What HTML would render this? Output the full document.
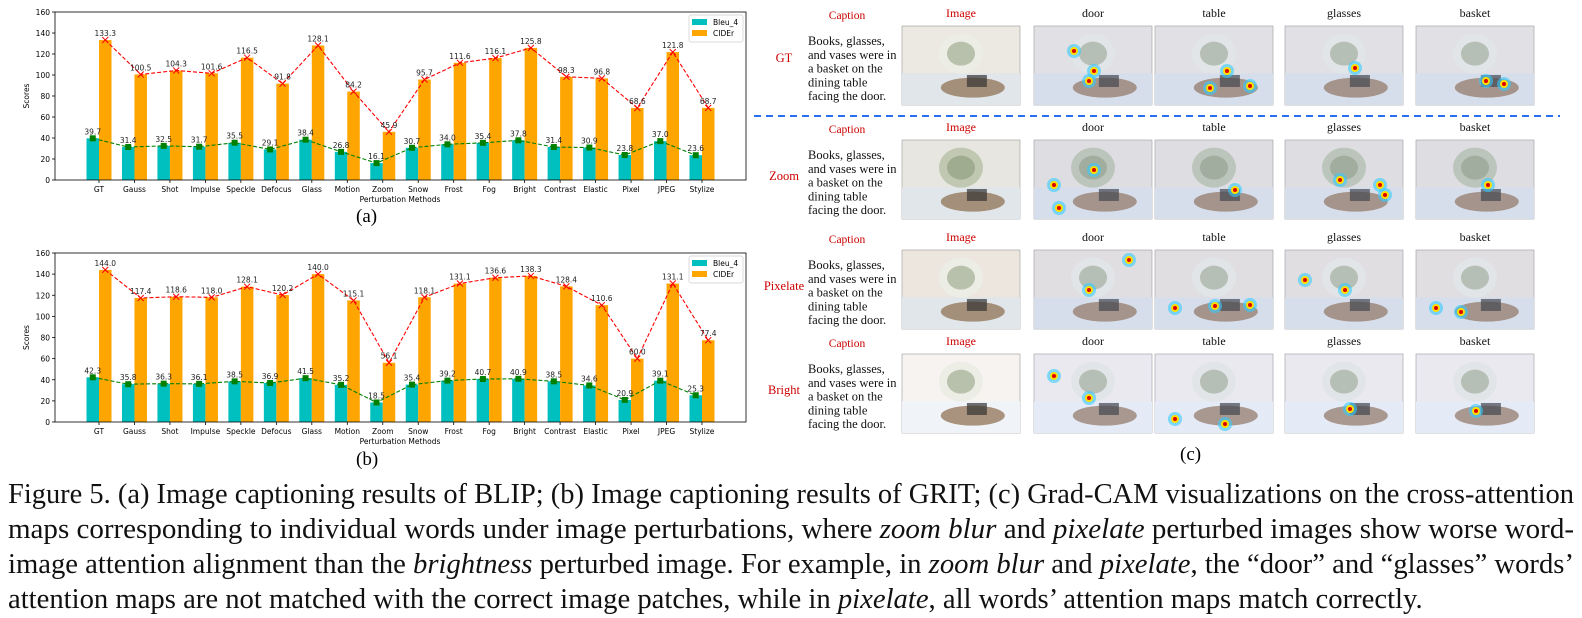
<!DOCTYPE html>
<html><head><meta charset="utf-8"><style>
body{margin:0;width:1582px;height:618px;background:#fff;overflow:hidden;position:relative;font-family:"Liberation Serif",serif}
.abs{position:absolute}
.cap{position:absolute;left:8px;width:1566px;top:477px;font-size:28px;line-height:35px;color:#111}
.cap span.ln{display:block;white-space:nowrap;transform-origin:0 0;width:max-content}
</style></head><body>
<svg id="charts" class="abs" style="left:0;top:0" width="760" height="470"></svg>
<div class="abs" style="left:356px;top:206px;font-size:19px">(a)</div>
<div class="abs" style="left:356px;top:449px;font-size:19px">(b)</div>
<svg id="grid" class="abs" style="left:750px;top:0" width="832" height="470"></svg>
<div class="abs" style="left:1180px;top:444px;font-size:19px">(c)</div>
<div class="cap" id="cap">
<span class="ln">Figure 5. (a) Image captioning results of BLIP; (b) Image captioning results of GRIT; (c) Grad-CAM visualizations on the cross-attention</span>
<span class="ln">maps corresponding to individual words under image perturbations, where <i>zoom blur</i> and <i>pixelate</i> perturbed images show worse word-</span>
<span class="ln">image attention alignment than the <i>brightness</i> perturbed image. For example, in <i>zoom blur</i> and <i>pixelate</i>, the “door” and “glasses” words’</span>
<span class="ln">attention maps are not matched with the correct image patches, while in <i>pixelate</i>, all words’ attention maps match correctly.</span>
</div>
<script>
(function(){const ls=document.querySelectorAll('#cap .ln');let last=1;
ls.forEach((l,i)=>{const w=l.getBoundingClientRect().width;let s=(i<ls.length-1)?1566/w:last;if(i<ls.length-1)last=s;l.style.transform='scaleX('+s+')';});})();
const categories=["GT","Gauss","Shot","Impulse","Speckle","Defocus","Glass","Motion","Zoom","Snow","Frost","Fog","Bright","Contrast","Elastic","Pixel","JPEG","Stylize"];
const bleuA=[39.7,31.4,32.5,31.7,35.5,29.1,38.4,26.8,16.1,30.7,34.0,35.4,37.8,31.4,30.9,23.8,37.0,23.6];
const ciderA=[133.3,100.5,104.3,101.6,116.5,91.8,128.1,84.2,45.9,95.7,111.6,116.1,125.8,98.3,96.8,68.6,121.8,68.7];
const bleuB=[42.3,35.8,36.3,36.1,38.5,36.9,41.5,35.2,18.5,35.4,39.2,40.7,40.9,38.5,34.6,20.9,39.1,25.3];
const ciderB=[144.0,117.4,118.6,118.0,128.1,120.2,140.0,115.1,56.1,118.1,131.1,136.6,138.3,128.4,110.6,60.0,131.1,77.4];
const yTicks=[0,20,40,60,80,100,120,140,160];
const NS="http://www.w3.org/2000/svg";
function mk(p,t,a,txt){const e=document.createElementNS(NS,t);for(const k in a)e.setAttribute(k,a[k]);if(txt!==undefined)e.textContent=txt;p.appendChild(e);return e;}
const svg=document.getElementById('charts');
function chart(top,bottom,bleu,cider,tag){
  const L=55,R=746;
  const y=v=>bottom-(v/160)*(bottom-top);
  const x=i=>99+i*35.47;
  const g=mk(svg,'g',{});
  
  
  yTicks.forEach(t=>{mk(g,'line',{x1:L-3,x2:L,y1:y(t),y2:y(t),stroke:'#000','stroke-width':0.8});
    const tx=mk(g,'text',{x:L-5,y:y(t)+3,'font-size':7.5,'text-anchor':'end','font-family':'DejaVu Sans, sans-serif'},t);
    });
  const yt=mk(g,'text',{x:0,y:0,'font-size':7.5,'text-anchor':'middle','font-family':'DejaVu Sans, sans-serif',transform:`translate(29,${(top+bottom)/2}) rotate(-90)`},'Scores');
  
  const bw=12.5;
  categories.forEach((c,i)=>{
    const b1=mk(g,'rect',{x:x(i)-bw,y:y(bleu[i]),width:bw,height:bottom-y(bleu[i]),fill:'#00bfbf'});
    
    const b2=mk(g,'rect',{x:x(i),y:y(cider[i]),width:bw,height:bottom-y(cider[i]),fill:'#ffa500'});
    
    mk(g,'line',{x1:x(i),x2:x(i),y1:bottom,y2:bottom+3,stroke:'#000','stroke-width':0.8});
    const tl=mk(g,'text',{x:x(i),y:bottom+12,'font-size':7.5,'text-anchor':'middle','font-family':'DejaVu Sans, sans-serif'},c);
    
  });
  let pb='',pc='';
  categories.forEach((c,i)=>{pb+=(i?'L':'M')+(x(i)-bw/2)+','+y(bleu[i]);pc+=(i?'L':'M')+(x(i)+bw/2)+','+y(cider[i]);});
  mk(g,'path',{d:pb,fill:'none',stroke:'green','stroke-width':1.1,'stroke-dasharray':'4,2'});
  mk(g,'path',{d:pc,fill:'none',stroke:'red','stroke-width':1.1,'stroke-dasharray':'4,2'});
  categories.forEach((c,i)=>{
    const cx=x(i)-bw/2,cy=y(bleu[i]);
    mk(g,'rect',{x:cx-3,y:cy-3,width:6,height:6,fill:'green'});
    mk(g,'text',{x:cx,y:cy-4,'font-size':7.5,'text-anchor':'middle','font-family':'DejaVu Sans, sans-serif',fill:'#222'},bleu[i].toFixed(1));
    const dx=x(i)+bw/2,dy=y(cider[i]);
    mk(g,'path',{d:`M${dx-3},${dy-3}L${dx+3},${dy+3}M${dx-3},${dy+3}L${dx+3},${dy-3}`,stroke:'red','stroke-width':1});
    mk(g,'text',{x:dx,y:dy-4,'font-size':7.5,'text-anchor':'middle','font-family':'DejaVu Sans, sans-serif',fill:'#222'},cider[i].toFixed(1));
  });
  mk(g,'rect',{x:L,y:top,width:R-L,height:bottom-top,fill:'none',stroke:'#000','stroke-width':0.8});
  const xt=mk(g,'text',{x:400,y:bottom+22,'font-size':7.5,'text-anchor':'middle','font-family':'DejaVu Sans, sans-serif'},'Perturbation Methods');
  
  const lg=mk(g,'g',{});
  
  mk(lg,'rect',{x:689,y:top+3,width:54,height:27,fill:'#fff',stroke:'#ccc','stroke-width':0.7,rx:2});
  mk(lg,'rect',{x:692,y:top+7,width:15,height:6,fill:'#00bfbf'});
  mk(lg,'text',{x:713,y:top+13,'font-size':7.5,'font-family':'DejaVu Sans, sans-serif'},'Bleu_4');
  mk(lg,'rect',{x:692,y:top+18,width:15,height:6,fill:'#ffa500'});
  mk(lg,'text',{x:713,y:top+24,'font-size':7.5,'font-family':'DejaVu Sans, sans-serif'},'CIDEr');
}
chart(12,180,bleuA,ciderA,'a');
chart(253,422,bleuB,ciderB,'b');

const gs=document.getElementById('grid');
const rows=[{lab:'GT',y:26,ly:62,bg:'#ece8e2'},{lab:'Zoom',y:140,ly:180,bg:'#e8e6e0'},{lab:'Pixelate',y:250,ly:290,bg:'#ece6de'},{lab:'Bright',y:354,ly:394,bg:'#f6f3f0'}];
const cols=['Image','door','table','glasses','basket'];
const colX=[152,284,405,535,666];
const heat=[[[],[[40,25],[55,55],[60,45]],[[55,62],[72,45],[95,60]],[[70,42]],[[88,58],[70,55]]],
[[],[[20,45],[60,30],[25,68]],[[80,50]],[[55,40],[95,45],[100,55]],[[72,45]]],
[[],[[95,10],[55,40]],[[20,58],[60,56],[95,55]],[[20,30],[60,40]],[[20,58],[45,62]]],
[[],[[20,22],[55,44]],[[20,65],[70,70]],[[65,55]],[[60,57]]]];
rows.forEach((r,ri)=>{
  const rg=mk(gs,'g',{});
  
  mk(rg,'text',{x:34,y:r.ly,'font-size':12.5,fill:'#c00','text-anchor':'middle','font-family':'Liberation Serif, serif'},r.lab);
  mk(rg,'text',{x:97,y:r.y-7,'font-size':11.5,fill:'#c00','text-anchor':'middle','font-family':'Liberation Serif, serif'},'Caption');
  ['Books, glasses,','and vases were in','a basket on the','dining table','facing the door.'].forEach((t,k)=>
    mk(rg,'text',{x:58,y:r.y+19+k*13.8,'font-size':12.5,fill:'#111','font-family':'Liberation Serif, serif'},t));
  cols.forEach((c,ci)=>{
    const x0=colX[ci],w=118,h=79;
    mk(rg,'text',{x:x0+w/2,y:r.y-9,'font-size':12,fill:ci==0?'#c00':'#111','text-anchor':'middle','font-family':'Liberation Serif, serif'},c);
    const im=mk(rg,'g',{});
    
    mk(im,'rect',{x:x0,y:r.y,width:w,height:h,fill:r.bg,stroke:'#999','stroke-width':0.6});
    mk(im,'rect',{x:x0,y:r.y+h*0.6,width:w,height:h*0.4,fill:ri==3?'#f0f4f8':'#e0e6ea'});
    mk(im,'ellipse',{cx:x0+w*0.5,cy:r.y+h*0.35,rx:22,ry:20,fill:ri==1?'#c0c8b2':'#eceee6'});
    mk(im,'ellipse',{cx:x0+w*0.5,cy:r.y+h*0.35,rx:14,ry:12,fill:'#7a8a66',opacity:0.45});
    mk(im,'ellipse',{cx:x0+w*0.6,cy:r.y+h*0.78,rx:32,ry:10,fill:'#8a6a4a',opacity:0.7});
    mk(im,'rect',{x:x0+w*0.55,y:r.y+h*0.62,width:20,height:12,fill:'#333',opacity:0.7});
    if(ci>0){mk(im,'rect',{x:x0,y:r.y,width:w,height:h,fill:'#a8b4f0',opacity:0.15});
      heat[ri][ci].forEach(p=>{mk(im,'circle',{cx:x0+p[0],cy:r.y+p[1]*h/79,r:7,fill:'#3cf',opacity:0.6});
        mk(im,'circle',{cx:x0+p[0],cy:r.y+p[1]*h/79,r:4,fill:'#fd0'});
        mk(im,'circle',{cx:x0+p[0],cy:r.y+p[1]*h/79,r:2,fill:'#d00'});});}
  });
});
const dl=mk(gs,'line',{x1:4,x2:810,y1:116,y2:116,stroke:'#2a6ff0','stroke-width':2,'stroke-dasharray':'7,5'});

</script>
</body></html>
